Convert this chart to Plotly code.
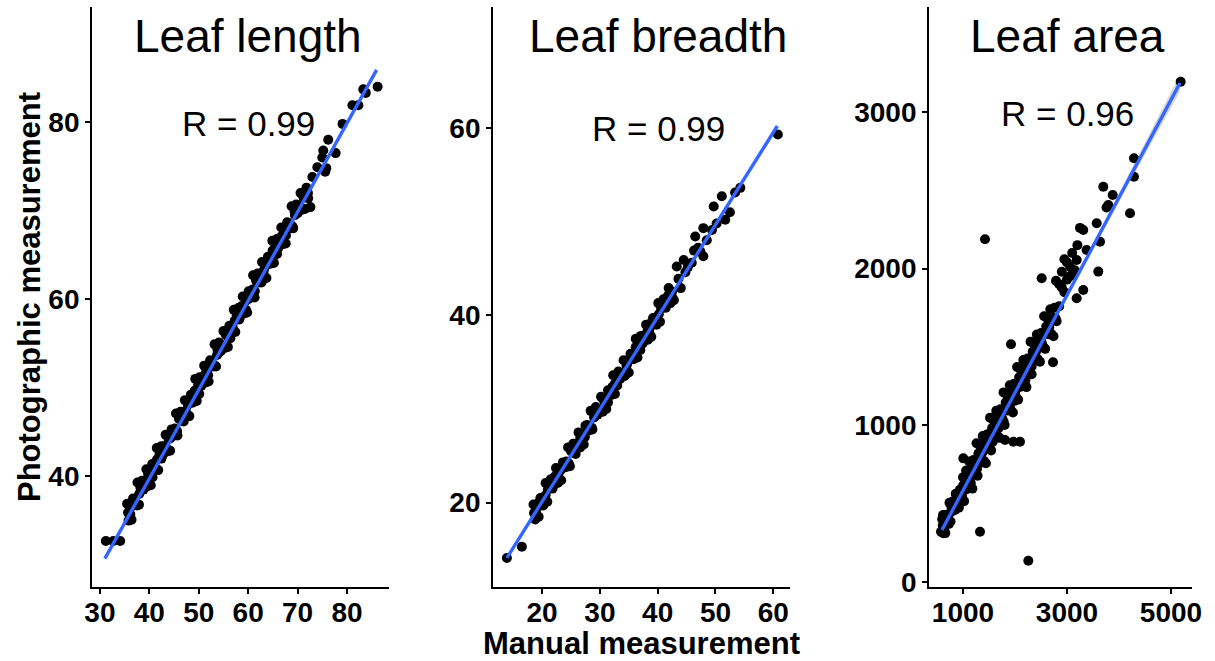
import plotly.graph_objects as go

# ---------------------------------------------------------------------------
# Data read off the reference (manual vs photographic measurement)
# ---------------------------------------------------------------------------

panel_titles = ["Leaf length", "Leaf breadth", "Leaf area"]
r_labels = ["R = 0.99", "R = 0.99", "R = 0.96"]

length_points = [
    (31.2, 32.7), (32.7, 32.7), (34.1, 32.7),
    (35.5, 36.9), (35.8, 35.0), (36.1, 36.4), (36.4, 35.1), (36.7, 37.5),
    (37.0, 36.9), (37.3, 36.8), (37.6, 39.3), (37.9, 36.8), (38.2, 38.7),
    (38.5, 39.5), (38.8, 38.5), (39.1, 39.2), (39.4, 40.8), (39.7, 38.9),
    (40.0, 40.3), (40.3, 39.0), (40.6, 41.4), (40.9, 40.8), (41.2, 40.7),
    (41.5, 43.2), (41.8, 40.7), (42.1, 42.6), (42.4, 43.4), (42.7, 42.4),
    (43.0, 43.1), (43.3, 44.7), (43.6, 42.8), (43.9, 44.2), (44.2, 42.9),
    (44.5, 45.3), (44.8, 44.7), (45.1, 44.6), (45.4, 47.1), (45.7, 44.6),
    (46.0, 46.5), (46.3, 47.3), (46.6, 46.3), (46.9, 47.0), (47.2, 48.6),
    (47.5, 46.7), (47.8, 48.1), (48.1, 46.8), (48.4, 49.2), (48.7, 48.6),
    (49.0, 48.5), (49.3, 51.0), (49.6, 48.5), (49.9, 50.4), (50.2, 51.2),
    (50.5, 50.2), (50.8, 50.9), (51.1, 52.5), (51.4, 50.6), (51.7, 52.0),
    (52.0, 50.7), (52.3, 53.1), (52.6, 52.5), (52.9, 52.4), (53.2, 54.9),
    (53.5, 52.4), (53.8, 54.3), (54.1, 55.1), (54.4, 54.1), (54.7, 54.8),
    (55.0, 56.4), (55.3, 54.5), (55.6, 55.9), (55.9, 54.6), (56.2, 57.0),
    (56.5, 56.4), (56.8, 56.3), (57.1, 58.8), (57.4, 56.3), (57.7, 58.2),
    (58.0, 59.0), (58.3, 58.0), (58.6, 58.7), (58.9, 60.3), (59.2, 58.4),
    (59.5, 59.8), (59.8, 58.5), (60.1, 60.9), (60.4, 60.3), (60.7, 60.2),
    (61.0, 62.7), (61.3, 60.2), (61.6, 62.1), (61.9, 62.9), (62.2, 61.9),
    (62.5, 62.6), (62.8, 64.2), (63.1, 62.3), (63.4, 63.7), (63.7, 62.4),
    (64.0, 64.8), (64.3, 64.2), (64.6, 64.1), (64.9, 66.6), (65.2, 64.1),
    (65.5, 66.0), (65.8, 66.8), (66.1, 65.8), (66.4, 66.5), (66.7, 68.1),
    (67.0, 66.2), (67.3, 67.6), (67.6, 66.3), (67.9, 68.7), (68.2, 68.1),
    (68.5, 68.0), (68.8, 70.5), (69.1, 68.0), (69.4, 69.9), (69.7, 70.7),
    (70.0, 69.7), (70.3, 70.4), (70.6, 72.0), (70.9, 70.1), (71.2, 71.5),
    (71.5, 70.2), (71.8, 72.6), (72.1, 72.0), (72.6, 70.4), (73.0, 73.8),
    (74.0, 74.9), (75.0, 76.0), (75.2, 76.8), (75.6, 74.4), (75.8, 74.8),
    (76.2, 78.0), (77.7, 76.5), (79.1, 79.8), (81.1, 81.9), (82.3, 81.9),
    (83.3, 83.7), (83.8, 83.3), (86.2, 84.0),
    # dense core of the cloud
    (35.70, 35.9), (36.15, 35.7), (36.60, 37.1), (37.05, 36.9), (37.50, 36.7),
    (37.95, 38.0), (38.40, 38.7), (38.85, 39.1), (39.30, 38.8), (39.75, 40.3),
    (40.20, 40.0), (40.65, 39.9), (41.10, 41.1), (41.55, 41.9), (42.00, 42.2),
    (42.45, 42.0), (42.90, 43.4), (43.35, 43.2), (43.80, 43.0), (44.25, 44.3),
    (44.70, 45.0), (45.15, 45.4), (45.60, 45.1), (46.05, 46.6), (46.50, 46.3),
    (46.95, 46.2), (47.40, 47.4), (47.85, 48.2), (48.30, 48.5), (48.75, 48.3),
    (49.20, 49.7), (49.65, 49.5), (50.10, 49.3), (50.55, 50.6), (51.00, 51.3),
    (51.45, 51.7), (51.90, 51.4), (52.35, 52.9), (52.80, 52.6), (53.25, 52.5),
    (53.70, 53.7), (54.15, 54.5), (54.60, 54.8), (55.05, 54.6), (55.50, 56.0),
    (55.95, 55.8), (56.40, 55.6), (56.85, 56.9), (57.30, 57.6), (57.75, 58.0),
    (58.20, 57.7), (58.65, 59.2), (59.10, 58.9), (59.55, 58.8), (60.00, 60.0),
    (60.45, 60.8), (60.90, 61.1), (61.35, 60.9), (61.80, 62.3), (62.25, 62.1),
    (62.70, 61.9), (63.15, 63.2), (63.60, 63.9), (64.05, 64.3), (64.50, 64.0),
    (64.95, 65.5), (65.40, 65.2), (65.85, 65.1), (66.30, 66.3), (66.75, 67.1),
    (67.20, 67.4), (67.65, 67.2), (68.10, 68.6), (68.55, 68.4), (69.00, 68.2),
    (69.45, 69.5), (69.90, 70.2), (70.35, 70.6), (70.80, 70.3), (71.25, 71.8),
    (71.70, 71.5), (72.15, 71.4),
]

breadth_points = [
    (13.9, 14.1), (16.5, 15.3),
    (18.5, 19.8), (18.8, 18.2), (19.1, 19.4), (19.4, 18.5), (19.7, 20.5),
    (20.0, 20.0), (20.3, 20.0), (20.6, 22.1), (20.9, 20.1), (21.2, 21.7),
    (21.5, 22.5), (21.8, 21.7), (22.1, 22.3), (22.4, 23.7), (22.7, 22.1),
    (23.0, 23.3), (23.3, 22.4), (23.6, 24.3), (23.9, 23.8), (24.2, 23.8),
    (24.5, 25.9), (24.8, 23.9), (25.1, 25.5), (25.4, 26.3), (25.7, 25.5),
    (26.0, 26.1), (26.3, 27.5), (26.6, 25.9), (26.9, 27.1), (27.2, 26.2),
    (27.5, 28.2), (27.8, 27.7), (28.1, 27.7), (28.4, 29.8), (28.7, 27.8),
    (29.0, 29.4), (29.3, 30.2), (29.6, 29.4), (29.9, 30.0), (30.2, 31.3),
    (30.5, 29.7), (30.8, 30.9), (31.1, 30.0), (31.4, 32.0), (31.7, 31.5),
    (32.0, 31.5), (32.3, 33.6), (32.6, 31.6), (32.9, 33.2), (33.2, 34.0),
    (33.5, 33.2), (33.8, 33.8), (34.1, 35.2), (34.4, 33.6), (34.7, 34.8),
    (35.0, 33.9), (35.3, 35.9), (35.6, 35.4), (35.9, 35.4), (36.2, 37.5),
    (36.5, 35.5), (36.8, 37.0), (37.1, 37.8), (37.4, 37.0), (37.7, 37.6),
    (38.0, 39.0), (38.3, 37.4), (38.6, 38.6), (38.9, 37.7), (39.2, 39.7),
    (39.5, 39.2), (39.8, 39.2), (40.1, 41.3), (40.4, 39.3), (40.7, 40.9),
    (41.0, 41.7), (41.3, 40.9), (41.6, 41.5), (41.9, 42.9), (42.2, 41.3),
    (42.5, 42.5), (42.8, 41.6), (43.3, 45.2), (43.6, 43.9), (44.0, 42.9),
    (44.5, 45.9), (44.8, 44.6), (45.2, 45.1), (45.9, 45.6), (46.3, 46.9),
    (46.5, 48.4), (47.0, 47.2), (47.4, 46.8), (47.9, 49.3), (47.9, 46.3),
    (48.5, 48.0), (49.4, 49.1), (49.7, 51.6), (50.2, 49.8), (51.1, 52.7),
    (51.7, 50.2), (52.5, 51.0), (53.4, 53.1), (54.3, 53.6), (60.8, 59.3),
    # dense core of the cloud
    (18.6, 18.9), (19.0, 18.7), (19.4, 20.0), (19.8, 19.8), (20.2, 19.7),
    (20.6, 20.8), (21.0, 21.4), (21.4, 21.7), (21.8, 21.5), (22.2, 22.8),
    (22.6, 22.6), (23.0, 22.5), (23.4, 23.6), (23.8, 24.1), (24.2, 24.4),
    (24.6, 24.2), (25.0, 25.5), (25.4, 25.3), (25.8, 25.2), (26.2, 26.3),
    (26.6, 26.9), (27.0, 27.2), (27.4, 27.0), (27.8, 28.3), (28.2, 28.1),
    (28.6, 28.0), (29.0, 29.1), (29.4, 29.7), (29.8, 30.0), (30.2, 29.8),
    (30.6, 31.0), (31.0, 30.8), (31.4, 30.7), (31.8, 31.8), (32.2, 32.4),
    (32.6, 32.7), (33.0, 32.5), (33.4, 33.8), (33.8, 33.6), (34.2, 33.5),
    (34.6, 34.6), (35.0, 35.2), (35.4, 35.5), (35.8, 35.3), (36.2, 36.6),
    (36.6, 36.4), (37.0, 36.3), (37.4, 37.3), (37.8, 37.9), (38.2, 38.2),
    (38.6, 38.0), (39.0, 39.3), (39.4, 39.1), (39.8, 39.0), (40.2, 40.1),
    (40.6, 40.7), (41.0, 41.0), (41.4, 40.8), (41.8, 42.1), (42.2, 41.9),
    (42.6, 41.8),
]

area_points = [
    (577, 321), (600, 401), (615, 428), (620, 311), (640, 378), (660, 312),
    (680, 427), (700, 391), (720, 386), (740, 506), (760, 386), (780, 477),
    (800, 513), (820, 457), (840, 490), (860, 563), (880, 473), (900, 540),
    (920, 474), (940, 589), (960, 553), (980, 548), (1000, 668), (1006, 789),
    (1020, 516), (1040, 659), (1060, 711), (1080, 609), (1100, 656),
    (1120, 769), (1140, 611), (1160, 714), (1180, 596), (1200, 779),
    (1220, 711), (1240, 694), (1260, 886), (1280, 678), (1300, 821),
    (1320, 873), (1327, 321), (1340, 771), (1360, 818), (1380, 931),
    (1400, 773), (1420, 876), (1423, 2188), (1440, 758), (1460, 941),
    (1480, 873), (1500, 856), (1520, 1048), (1540, 840), (1560, 983),
    (1580, 1035), (1600, 933), (1620, 980), (1640, 1093), (1660, 935),
    (1680, 1038), (1700, 920), (1720, 1103), (1740, 1035), (1760, 1018),
    (1780, 1210), (1800, 1002), (1808, 906), (1820, 1145), (1840, 1197),
    (1860, 1095), (1880, 1142), (1900, 1255), (1920, 1097), (1923, 1517),
    (1940, 1200), (1960, 1082), (1968, 895), (1980, 1265), (2000, 1197),
    (2020, 1179), (2040, 1372), (2060, 1164), (2080, 1307), (2096, 895),
    (2100, 1359), (2120, 1257), (2140, 1304), (2160, 1417), (2180, 1259),
    (2200, 1362), (2220, 1244), (2240, 1427), (2256, 136), (2260, 1359),
    (2280, 1341), (2300, 1534), (2320, 1326), (2340, 1469), (2360, 1521),
    (2380, 1419), (2400, 1466), (2420, 1579), (2440, 1421), (2460, 1524),
    (2480, 1406), (2500, 1589), (2513, 1939), (2520, 1521), (2540, 1503),
    (2560, 1696), (2580, 1488), (2600, 1631), (2620, 1683), (2640, 1581),
    (2660, 1628), (2680, 1741), (2700, 1583), (2720, 1686), (2731, 1402),
    (2740, 1568), (2760, 1750), (2780, 1683), (2788, 1923), (2800, 1665),
    (2850, 1900), (2850, 1760), (2900, 1980), (2900, 1880), (2950, 1850),
    (2950, 2060), (3000, 2040), (3000, 1930), (3050, 1950), (3058, 2013),
    (3100, 2100), (3100, 1960), (3150, 1990), (3186, 2055), (3186, 1811),
    (3200, 2150), (3250, 2260), (3313, 2247), (3313, 1864), (3378, 2119),
    (3571, 2290), (3602, 1981), (3635, 2172), (3698, 2523), (3760, 2390),
    (3794, 2406), (3879, 2470), (4212, 2354), (4288, 2587), (4288, 2705),
    (5186, 3193),
    # dense core of the cloud
    (610, 361), (640, 330), (670, 423), (700, 392), (730, 371), (760, 444),
    (790, 483), (820, 492), (850, 461), (880, 554), (910, 523), (940, 502),
    (970, 575), (1000, 614), (1030, 623), (1060, 591), (1090, 685),
    (1120, 654), (1150, 632), (1180, 706), (1210, 745), (1240, 754),
    (1270, 722), (1300, 816), (1330, 785), (1360, 763), (1390, 837),
    (1420, 876), (1450, 884), (1480, 853), (1510, 947), (1540, 915),
    (1570, 894), (1600, 968), (1630, 1007), (1660, 1015), (1690, 984),
    (1720, 1078), (1750, 1046), (1780, 1025), (1810, 1099), (1840, 1137),
    (1870, 1146), (1900, 1115), (1930, 1208), (1960, 1177), (1990, 1156),
    (2020, 1229), (2050, 1268), (2080, 1277), (2110, 1246), (2140, 1339),
    (2170, 1308), (2200, 1287), (2230, 1360), (2260, 1399), (2290, 1408),
    (2320, 1376), (2350, 1470), (2380, 1439), (2410, 1418), (2440, 1491),
    (2470, 1530), (2500, 1539),
]

# fitted lm lines (endpoints as drawn in the reference)
length_fit = [(31.0, 30.7), (86.0, 85.9)]
breadth_fit = [(13.9, 14.1), (60.7, 60.2)]
area_fit = [(596, 332), (5173, 3185)]

# confidence band of the leaf-area fit (only visible near the top end)
area_band_x = [596, 1500, 2500, 3500, 5173]
area_band_lo = [320, 890, 1510, 2127, 3130]
area_band_hi = [344, 902, 1528, 2157, 3240]

length_xticks = [30, 40, 50, 60, 70, 80]
length_yticks = [40, 60, 80]
breadth_xticks = [20, 30, 40, 50, 60]
breadth_yticks = [20, 40, 60]
area_xticks = [1000, 3000, 5000]
area_yticks = [0, 1000, 2000, 3000]

# ---------------------------------------------------------------------------

W, H = 1215, 661
FONT = "Liberation Sans, Arial, sans-serif"


def px_x(p):
    return p / W


def px_y(p):
    return 1 - p / H


panels = [
    dict(points=length_points, fit=length_fit, xt=length_xticks, yt=length_yticks,
         xdom=(92, 389), xr=[28.4, 88.5], yr=[27.5, 93.0], cx=248, ry=123),
    dict(points=breadth_points, fit=breadth_fit, xt=breadth_xticks, yt=breadth_yticks,
         xdom=(493, 790), xr=[11.5, 62.9], yr=[11.0, 72.9], cx=658, ry=128),
    dict(points=area_points, fit=area_fit, xt=area_xticks, yt=area_yticks,
         xdom=(929, 1192), xr=[346, 5404], yr=[-32, 3670], cx=1067, ry=113),
]

fig = go.Figure()
annotations = []

for i, p in enumerate(panels):
    n = "" if i == 0 else str(i + 1)
    if i == 2:
        fig.add_trace(go.Scatter(
            x=area_band_x + area_band_x[::-1],
            y=area_band_hi + area_band_lo[::-1],
            fill="toself", fillcolor="rgba(153,153,153,0.4)",
            line=dict(width=0), mode="lines", xaxis="x3", yaxis="y3",
            showlegend=False, hoverinfo="skip",
        ))
    fig.add_trace(go.Scatter(
        x=[pt[0] for pt in p["points"]], y=[pt[1] for pt in p["points"]],
        mode="markers", xaxis="x" + n, yaxis="y" + n,
        marker=dict(size=10, color="black"), showlegend=False,
    ))
    fig.add_trace(go.Scatter(
        x=[q[0] for q in p["fit"]], y=[q[1] for q in p["fit"]],
        mode="lines", xaxis="x" + n, yaxis="y" + n,
        line=dict(color="#3366FF", width=3.4), showlegend=False,
    ))

    axis_common = dict(
        showgrid=False, zeroline=False, showline=True, linecolor="black",
        linewidth=1.8, ticks="outside", ticklen=5, tickwidth=1.5,
        tickcolor="black", automargin=False,
        tickfont=dict(family=FONT, size=28, color="black", weight="bold"),
    )
    fig.update_layout(**{
        "xaxis" + n: dict(
            domain=[px_x(p["xdom"][0]), px_x(p["xdom"][1])],
            range=p["xr"], tickvals=p["xt"], anchor="y" + n,
            ticklabelstandoff=-6, **axis_common),
        "yaxis" + n: dict(
            domain=[px_y(587), px_y(7)],
            range=p["yr"], tickvals=p["yt"], anchor="x" + n,
            ticklabelstandoff=0, **axis_common),
    })

    annotations.append(dict(
        text=panel_titles[i], x=px_x(p["cx"]), y=px_y(36),
        xref="paper", yref="paper", xanchor="center", yanchor="middle",
        showarrow=False, font=dict(family=FONT, size=46, color="black"),
    ))
    annotations.append(dict(
        text=r_labels[i], x=px_x(p["cx"]), y=px_y(p["ry"]),
        xref="paper", yref="paper", xanchor="center", yanchor="middle",
        showarrow=False, font=dict(family=FONT, size=35, color="black"),
    ))

annotations.append(dict(
    text="Photographic measurement", x=px_x(30), y=px_y(297), textangle=-90,
    xref="paper", yref="paper", xanchor="center", yanchor="middle",
    showarrow=False, font=dict(family=FONT, size=31, color="black", weight="bold"),
))
annotations.append(dict(
    text="Manual measurement", x=px_x(642), y=px_y(643),
    xref="paper", yref="paper", xanchor="center", yanchor="middle",
    showarrow=False, font=dict(family=FONT, size=31, color="black", weight="bold"),
))

fig.update_layout(
    width=W, height=H,
    margin=dict(l=0, r=0, t=0, b=0),
    paper_bgcolor="white", plot_bgcolor="white",
    annotations=annotations,
)

# the page's default body margin would push the figure 8px off the window
fig.write_html("out.html", config={"displayModeBar": False},
               post_script="document.body.style.margin = '0px';")
